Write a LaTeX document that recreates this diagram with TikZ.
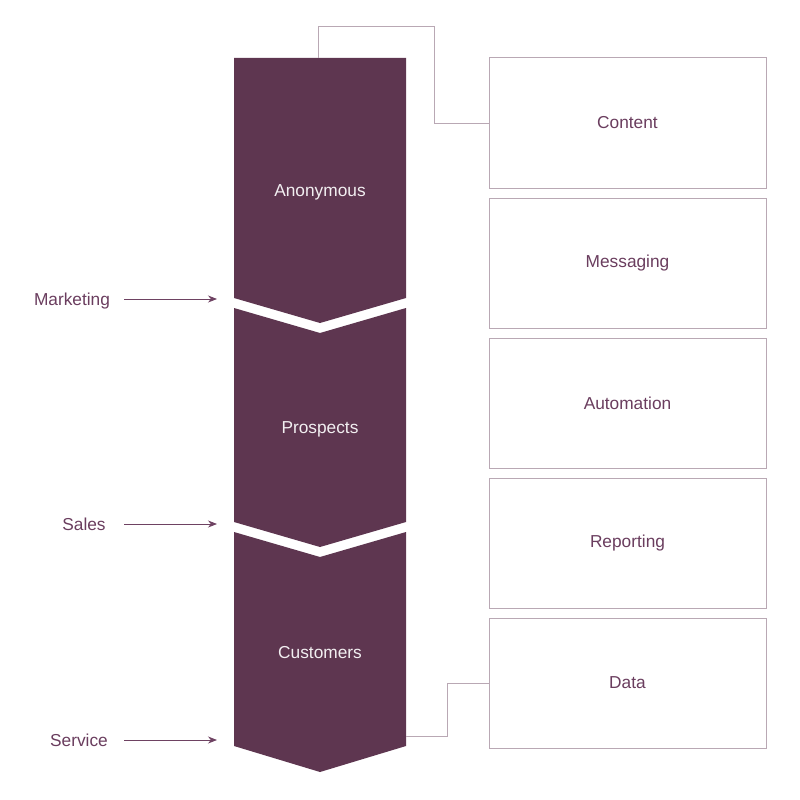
\documentclass[tikz,border=0pt]{standalone}
\usepackage{fontspec}
\setmainfont{Liberation Sans}
\usetikzlibrary{arrows.meta}
\definecolor{plum}{HTML}{5E3650}
\definecolor{plumtext}{HTML}{6A3D5E}
\definecolor{plumline}{HTML}{B9A8B4}
\definecolor{plumarrow}{HTML}{6E4262}
\tikzset{
  seg/.style={fill=plum},
  seglabel/.style={text=white!92!plum, font=\fontsize{17.3}{20}\selectfont},
  sidebox/.style={draw=plumline, line width=1pt, minimum width=277pt, minimum height=130pt, text=plumtext, font=\fontsize{17.3}{20}\selectfont, inner sep=0pt},
  sidelabel/.style={text=plumtext, font=\fontsize{17.3}{20}\selectfont},
  conn/.style={draw=plumline, line width=1pt},
  arr/.style={draw=plumarrow, line width=0.8pt, -{Stealth[length=9pt,width=7pt]}}
}
\begin{document}
\begin{tikzpicture}[x=1pt,y=-1pt]
\useasboundingbox (0,0) rectangle (800,800);
% funnel segments
\fill[seg] (234,58) -- (406,58) -- (406,298) -- (320,323) -- (234,298) -- cycle;
\fill[seg] (234,308) -- (320,333) -- (406,308) -- (406,522) -- (320,547) -- (234,522) -- cycle;
\fill[seg] (234,532) -- (320,557) -- (406,532) -- (406,746) -- (320,772) -- (234,746) -- cycle;
\node[seglabel] (anon) at (320,192) {Anonymous};
\node[seglabel] (prosp) at (320,429) {Prospects};
\node[seglabel] (cust) at (320,653) {Customers};
% side boxes
\node[sidebox] (content) at (627.5,123) {Content};
\node[sidebox] (messaging) at (627.5,263) {Messaging};
\node[sidebox] (automation) at (627.5,403) {Automation};
\node[sidebox] (reporting) at (627.5,543) {Reporting};
\node[sidebox] (data) at (627.5,683) {Data};
% connectors
\coordinate (topc) at (318,58);
\coordinate (topbend) at (434,27);
\draw[conn] (topc) |- (topbend) |- (content.west);
\coordinate (botc) at (406,736);
\coordinate (botbend) at (447.5,683);
\draw[conn] (botc) -| (botbend) -- (data.west);
% left labels and arrows
\node[sidelabel] (mkt) at (72,301) {Marketing};
\node[sidelabel] (sales) at (84,524) {Sales};
\node[sidelabel] (serv) at (79,740) {Service};
\coordinate (mkts) at (124,299);
\coordinate (mkte) at (217,299);
\coordinate (saless) at (124,524);
\coordinate (salese) at (217,524);
\coordinate (servs) at (124,740);
\coordinate (serve) at (217,740);
\draw[arr] (mkts) -- (mkte);
\draw[arr] (saless) -- (salese);
\draw[arr] (servs) -- (serve);
\end{tikzpicture}
\end{document}
